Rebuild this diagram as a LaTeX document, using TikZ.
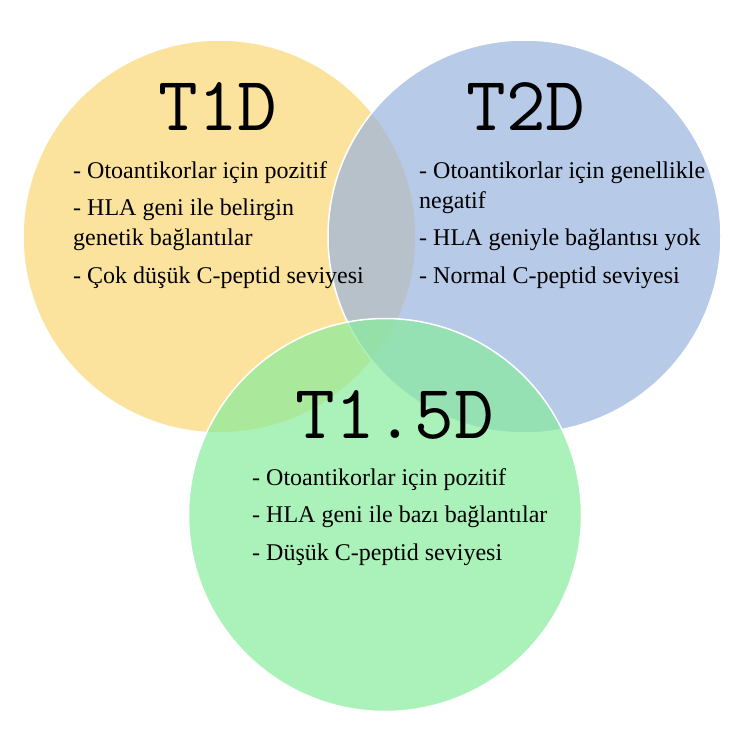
\documentclass[tikz,border=0pt]{standalone}
\usepackage{fontspec}
\setmainfont{Liberation Serif}
\usepackage{tikz}
\definecolor{t1dyellow}{RGB}{251, 215, 116}
\definecolor{t2dblue}{RGB}{153, 179, 222}
\definecolor{ladagreen}{RGB}{136, 236, 156}
\usetikzlibrary{positioning}

\begin{document}
\begin{tikzpicture}[
    x=1pt, y=-1pt,
    every node/.style={align=left},
    set/.style={circle, minimum size=393pt, inner sep=0pt, fill opacity=0.7, draw=white, line width=1.5pt},
    title/.style={anchor=base, font=\fontsize{77}{77}\selectfont\ttfamily},
    items/.style={anchor=base west, inner sep=0pt, font=\fontsize{24}{30}\selectfont}
]
    \useasboundingbox (0,0) rectangle (750,750);

    % Three sets
    \node[set, fill=t1dyellow] (t1d) at (219.5,236.5) {};
    \node[set, fill=t2dblue] (t2d) at (524.5,236.5) {};
    \node[set, fill=ladagreen] (lada) at (385,515) {};

    % Titles
    \node[title] (t1d-title) at (218,130) {T1D};
    \node[title] (t2d-title) at (526,130) {T2D};
    \node[title] (lada-title) at (395,438) {T1.5D};

    % Features (anchored at the last line's baseline)
    \node[items] (t1d-items) at (73,283) {
        - Otoantikorlar için pozitif\\[7.5pt]
        - HLA geni ile belirgin\\
        genetik bağlantılar\\[7.5pt]
        - Çok düşük C-peptid seviyesi
    };
    \node[items] (t2d-items) at (419,283) {
        - Otoantikorlar için genellikle\\
        negatif\\[7.5pt]
        - HLA geniyle bağlantısı yok\\[7.5pt]
        - Normal C-peptid seviyesi
    };
    \node[items] (lada-items) at (252,560) {
        - Otoantikorlar için pozitif\\[7.5pt]
        - HLA geni ile bazı bağlantılar\\[7.5pt]
        - Düşük C-peptid seviyesi
    };
\end{tikzpicture}
\end{document}
